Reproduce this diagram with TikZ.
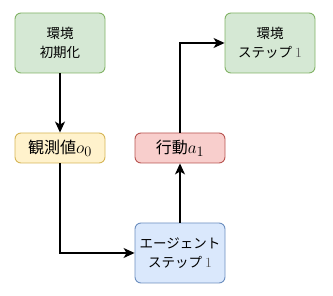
\documentclass[tikz,border=0pt]{standalone}
\usepackage{fontspec}
\newfontfamily\jp{Noto Sans CJK JP}
\usetikzlibrary{arrows.meta}
\definecolor{gfill}{HTML}{D5E8D4}\definecolor{gdraw}{HTML}{82B366}
\definecolor{yfill}{HTML}{FFF2CC}\definecolor{ydraw}{HTML}{D6B656}
\definecolor{rfill}{HTML}{F8CECC}\definecolor{rdraw}{HTML}{B85450}
\definecolor{bfill}{HTML}{DAE8FC}\definecolor{bdraw}{HTML}{6C8EBF}
\newcommand{\mybigmath}[1]{{\fontsize{19}{19}\selectfont$#1$}}
\newcommand{\myone}{{\rmfamily\fontsize{14}{14}\selectfont\color{black!65}1}}
\tikzset{
  box/.style={rounded corners=6pt, line width=0.9pt, minimum width=90pt, align=center, inner sep=0pt, font=\jp\fontsize{13.5}{19}\selectfont},
  tall/.style={box, minimum height=60pt},
  short/.style={box, minimum height=30pt, font=\jp\fontsize{16}{18}\selectfont},
  green/.style={fill=gfill, draw=gdraw},
  yellow/.style={fill=yfill, draw=ydraw},
  red/.style={fill=rfill, draw=rdraw},
  blue/.style={fill=bfill, draw=bdraw},
  conn/.style={line width=1.3pt, -{Stealth[length=11pt,width=10pt,inset=3pt]}}
}
\begin{document}
\begin{tikzpicture}[x=1pt,y=-1pt]
\useasboundingbox (0,0) rectangle (333,296);
\node[tall,green] (init) at (60,43) {環境\\初期化};
\node[tall,green] (env1) at (270,43) {環境\\ステップ \myone};
\node[short,yellow] (obs) at (60,148) {観測値\mybigmath{o_0}};
\node[short,red] (act) at (180,148) {行動\mybigmath{a_1}};
\node[tall,blue] (agent) at (180,253) {エージェント\\ステップ \myone};
\draw[conn] (init) -- (obs);
\draw[conn] (obs.south) |- (agent.west);
\draw[conn] (agent) -- (act);
\draw[conn] (act.north) |- (env1.west);
\end{tikzpicture}
\end{document}
